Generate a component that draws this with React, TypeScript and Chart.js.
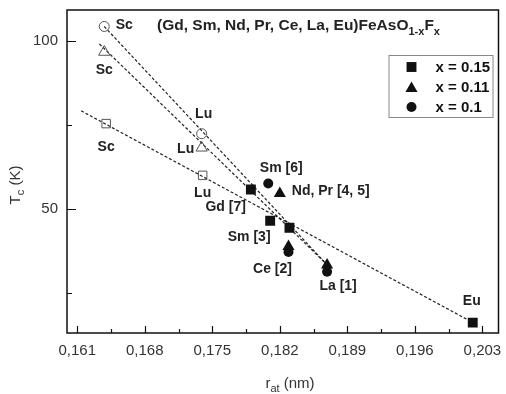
import React, { useEffect, useRef } from 'react';
import { Chart, registerables } from 'chart.js';

Chart.register(...registerables);

// ---- axis ticks ----
const xTickValues = [0.161, 0.1645, 0.168, 0.1715, 0.175, 0.1785, 0.182, 0.1855, 0.189, 0.1925, 0.196, 0.1995, 0.203];
const xTickLabels = ['0,161', '', '0,168', '', '0,175', '', '0,182', '', '0,189', '', '0,196', '', '0,203'];
const yTickValues = [25, 50, 75, 100];
const yTickLabels = ['', '50', '', '100'];

// ---- filled markers (x = 0.15, 0.11, 0.1) ----
const sqX = [0.1790, 0.1810, 0.1830, 0.2020];
const sqY = [55.8, 46.5, 44.4, 16.2];
const triX = [0.1820, 0.1829, 0.1869];
const triY = [54.6, 38.8, 33.3];
const cirX = [0.1808, 0.1829, 0.1869];
const cirY = [57.6, 37.2, 31.3];

// ---- open markers (Sc, Lu) ----
const openCirX = [0.1638, 0.1739];
const openCirY = [104.3, 72.4];
const openTriX = [0.1638, 0.1739];
const openTriY = [96.7, 68.2];
const openSqX = [0.1640, 0.1740];
const openSqY = [75.4, 60.0];

// ---- fitted dashed lines ----
const fitCirX = [0.1638, 0.1867];
const fitCirY = [104.3, 34.0];
const fitTriX = [0.1633, 0.1867];
const fitTriY = [99.1, 34.0];
const fitSqX = [0.1614, 0.2015];
const fitSqY = [79.2, 17.0];

const legendLabels = ['x = 0.15', 'x = 0.11', 'x = 0.1'];

const FONT = '"Liberation Sans", Arial, Helvetica, sans-serif';

const pts = (xs: number[], ys: number[]) => xs.map((x, i) => ({ x, y: ys[i] }));

type Ann = { text: string; x: number; y: number; dx: number; dy: number; align?: CanvasTextAlign };
const annotations: Ann[] = [
  { text: 'Sc', x: openCirX[0], y: openCirY[0], dx: 20, dy: -1 },
  { text: 'Lu', x: openCirX[1], y: openCirY[1], dx: 2, dy: -20 },
  { text: 'Sc', x: openTriX[0], y: openTriY[0], dx: 0, dy: 18 },
  { text: 'Lu', x: openTriX[1], y: openTriY[1], dx: -16, dy: 1 },
  { text: 'Sc', x: openSqX[0], y: openSqY[0], dx: 0, dy: 24 },
  { text: 'Lu', x: openSqX[1], y: openSqY[1], dx: 0, dy: 18 },
  { text: 'Sm [6]', x: cirX[0], y: cirY[0], dx: 13, dy: -15 },
  { text: 'Nd, Pr [4, 5]', x: triX[0], y: triY[0], dx: 12, dy: -2, align: 'left' },
  { text: 'Gd [7]', x: sqX[0], y: sqY[0], dx: -5, dy: 18, align: 'right' },
  { text: 'Sm [3]', x: sqX[1], y: sqY[1], dx: -21, dy: 16 },
  { text: 'Ce [2]', x: cirX[1], y: cirY[1], dx: -16, dy: 17 },
  { text: 'La [1]', x: cirX[2], y: cirY[2], dx: 11, dy: 14 },
  { text: 'Eu', x: sqX[3], y: sqY[3], dx: -1, dy: -21 },
];

type Part = { t: string; sub?: boolean };

function drawRich(ctx: CanvasRenderingContext2D, parts: Part[], x: number, y: number, size: number, weight: string, subSize: number, subShift: number, align: 'left' | 'center') {
  const widths = parts.map((p) => {
    ctx.font = `${weight} ${p.sub ? subSize : size}px ${FONT}`;
    return ctx.measureText(p.t).width;
  });
  const total = widths.reduce((a, b) => a + b, 0);
  let cx = align === 'center' ? x - total / 2 : x;
  ctx.textAlign = 'left';
  ctx.textBaseline = 'alphabetic';
  parts.forEach((p, i) => {
    ctx.font = `${weight} ${p.sub ? subSize : size}px ${FONT}`;
    ctx.fillText(p.t, cx, y + (p.sub ? subShift : 0));
    cx += widths[i];
  });
}

function marker(ctx: CanvasRenderingContext2D, style: string, x: number, y: number, r: number) {
  ctx.beginPath();
  if (style === 'rect') {
    const s = Math.SQRT1_2 * r;
    ctx.rect(x - s, y - s, 2 * s, 2 * s);
  } else if (style === 'triangle') {
    let a = 0;
    ctx.moveTo(x + Math.sin(a) * r, y - Math.cos(a) * r);
    a += (2 * Math.PI) / 3;
    ctx.lineTo(x + Math.sin(a) * r, y - Math.cos(a) * r);
    a += (2 * Math.PI) / 3;
    ctx.lineTo(x + Math.sin(a) * r, y - Math.cos(a) * r);
    ctx.closePath();
  } else {
    ctx.arc(x, y, r, 0, Math.PI * 2);
  }
  ctx.fill();
}

const decorPlugin = {
  id: 'decor',
  afterDraw(chart: any) {
    const ctx: CanvasRenderingContext2D = chart.ctx;
    const { left, right, top, bottom } = chart.chartArea;
    const xs = chart.scales.x;
    const ys = chart.scales.y;
    ctx.save();
    // frame
    ctx.strokeStyle = '#111';
    ctx.lineWidth = 1.5;
    ctx.strokeRect(left, top, right - left, bottom - top);
    // inward ticks
    ctx.lineWidth = 1.2;
    ctx.beginPath();
    xTickValues.forEach((v, i) => {
      const px = Math.round(xs.getPixelForValue(v)) + 0.5;
      const len = xTickLabels[i] ? 7 : 4;
      ctx.moveTo(px, bottom);
      ctx.lineTo(px, bottom - len);
    });
    yTickValues.forEach((v, i) => {
      const py = Math.round(ys.getPixelForValue(v)) + 0.5;
      const len = yTickLabels[i] ? 9 : 5;
      ctx.moveTo(left, py);
      ctx.lineTo(left + len, py);
    });
    ctx.stroke();

    ctx.fillStyle = '#222';
    // title
    drawRich(ctx, [{ t: '(Gd, Sm, Nd, Pr, Ce, La, Eu)FeAsO' }, { t: '1-x', sub: true }, { t: 'F' }, { t: 'x', sub: true }], 157, 30, 15.5, 'bold', 11, 5, 'left');

    // axis titles
    ctx.fillStyle = '#333';
    drawRich(ctx, [{ t: 'r' }, { t: 'at', sub: true }, { t: ' (nm)' }], 290, 388, 15, 'normal', 11, 4, 'center');
    ctx.save();
    ctx.translate(20, 185);
    ctx.rotate(-Math.PI / 2);
    drawRich(ctx, [{ t: 'T' }, { t: 'c', sub: true }, { t: ' (K)' }], 0, 0, 15, 'normal', 11, 4, 'center');
    ctx.restore();

    // point annotations
    ctx.fillStyle = '#222';
    ctx.font = `bold 14px ${FONT}`;
    ctx.textBaseline = 'middle';
    annotations.forEach((a) => {
      ctx.textAlign = a.align || 'center';
      ctx.fillText(a.text, xs.getPixelForValue(a.x) + a.dx, ys.getPixelForValue(a.y) + a.dy);
    });

    // legend box
    const bx = right - 110;
    const by = top + 45;
    ctx.strokeStyle = '#888';
    ctx.lineWidth = 1;
    ctx.strokeRect(bx + 0.5, by + 0.5, 104, 62);
    const styles = ['rect', 'triangle', 'circle'];
    const radii = [7, 7, 5];
    ctx.fillStyle = '#111';
    styles.forEach((s, i) => {
      const cy = by + 12 + i * 20;
      marker(ctx, s, bx + 23, cy + (s === 'triangle' ? 1.5 : 0), radii[i]);
      ctx.font = `bold 15px ${FONT}`;
      ctx.textAlign = 'left';
      ctx.textBaseline = 'middle';
      ctx.fillStyle = '#111';
      ctx.fillText(legendLabels[i], bx + 47, cy + 1);
    });
    ctx.restore();
  },
};

export default function App() {
  const ref = useRef<HTMLCanvasElement | null>(null);
  useEffect(() => {
    document.body.style.margin = '0';
    const canvas = ref.current;
    if (!canvas) return;
    const dash = [3, 2];
    const lineDs = (xs: number[], ys: number[]) => ({
      data: pts(xs, ys),
      showLine: true,
      pointRadius: 0,
      borderColor: '#222',
      borderWidth: 1.2,
      borderDash: dash,
      fill: false,
      order: 10,
    });
    const filled = (xs: number[], ys: number[], style: string, r: number) => ({
      data: pts(xs, ys),
      pointStyle: style,
      pointRadius: r,
      backgroundColor: '#111',
      borderColor: '#111',
      borderWidth: 0,
      showLine: false,
      order: 0,
    });
    const open = (xs: number[], ys: number[], style: string, r: number) => ({
      data: pts(xs, ys),
      pointStyle: style,
      pointRadius: r,
      backgroundColor: 'rgba(255,255,255,0)',
      borderColor: '#555',
      borderWidth: 1,
      showLine: false,
      order: 0,
    });
    const chart = new Chart(canvas, {
      type: 'scatter',
      data: {
        datasets: [
          lineDs(fitCirX, fitCirY),
          lineDs(fitTriX, fitTriY),
          lineDs(fitSqX, fitSqY),
          open(openCirX, openCirY, 'circle', 5),
          open(openTriX, openTriY, 'triangle', 6.5),
          open(openSqX, openSqY, 'rect', 6),
          filled(sqX, sqY, 'rect', 7),
          filled(triX, triY, 'triangle', 7),
          filled(cirX, cirY, 'circle', 5),
        ] as any,
      },
      options: {
        responsive: false,
        animation: false,
        devicePixelRatio: 1,
        layout: { padding: { top: 10, right: 3, left: 0, bottom: 0 } },
        plugins: { legend: { display: false }, tooltip: { enabled: false }, title: { display: false } },
        scales: {
          x: {
            type: 'linear',
            min: 0.15994,
            max: 0.20467,
            grid: { display: false, drawTicks: false, tickLength: 0 },
            border: { display: false },
            afterBuildTicks: (scale: any) => {
              scale.ticks = xTickValues.map((v) => ({ value: v }));
            },
            afterFit: (scale: any) => {
              scale.height = 61;
              scale.paddingLeft = 0;
              scale.paddingRight = 0;
            },
            ticks: {
              autoSkip: false,
              maxRotation: 0,
              padding: 9,
              color: '#333',
              font: { family: FONT, size: 15 },
              callback: (_v: any, i: number) => xTickLabels[i],
            },
          },
          y: {
            type: 'linear',
            min: 13.1,
            max: 109.2,
            grid: { display: false, drawTicks: false, tickLength: 0 },
            border: { display: false },
            afterBuildTicks: (scale: any) => {
              scale.ticks = yTickValues.map((v) => ({ value: v }));
            },
            afterFit: (scale: any) => {
              scale.width = 67;
              scale.paddingTop = 0;
              scale.paddingBottom = 0;
            },
            ticks: {
              autoSkip: false,
              padding: 9,
              color: '#333',
              font: { family: FONT, size: 15 },
              callback: (_v: any, i: number) => yTickLabels[i],
            },
          },
        },
      } as any,
      plugins: [decorPlugin],
    });
    return () => chart.destroy();
  }, []);
  return (
    <div style={{ position: 'absolute', left: 0, top: 0, width: 506, height: 394, background: '#fff' }}>
      <canvas ref={ref} width={506} height={394} style={{ display: 'block' }} />
    </div>
  );
}
